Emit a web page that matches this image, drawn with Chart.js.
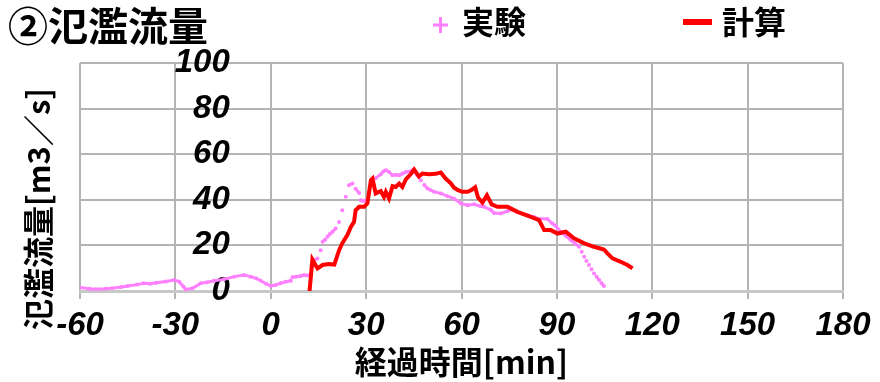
<!DOCTYPE html>
<html>
<head>
<meta charset="utf-8">
<script src="https://cdn.jsdelivr.net/npm/chart.js@4/dist/chart.umd.min.js"></script>
<style>
  html, body { margin: 0; padding: 0; background: #fff; }
  #wrap { width: 880px; height: 382px; }
</style>
</head>
<body>
<div id="wrap"><canvas id="c" width="880" height="382"></canvas></div>
<script>
// Axis ticks
const xTicks = [-60, -30, 0, 30, 60, 90, 120, 150, 180];
const yTicks = [0, 20, 40, 60, 80, 100];

// 実験 (measured overflow discharge), time in min and flow in m3/s
const expTime = [
  -60, -57, -55, -52, -50, -47, -45, -42, -40, -38, -36, -33, -30.4, -28.8, -27.5, -26.7,
  -24.6, -22, -20, -17.8, -14.7, -11.5, -8.4, -6.3, -4.5, -3.1, -1.5, 0, 1.5, 3.1, 4.7,
  6.3, 6.8, 8, 9.4, 10.5, 11.5, 12.6, 13.1, 13.6, 14.7, 15.7, 16.3, 17.1, 17.8, 18.6,
  19.4, 20.4, 21.5, 22.5, 23.6, 24.6, 25.7, 26.7, 27.8, 28.3, 29.1, 29.9, 31.0, 32.0,
  33.0, 34.6, 35.4, 36.2, 37.2, 38.3, 39.4, 40.4, 41.5, 42.5, 44.0, 44.6, 46.1, 47.2,
  48.3, 49.3, 50.4, 51.4, 53.5, 55.6, 57.7, 59.8, 61.9, 64.0, 66.0, 67.1, 69.2, 70.2,
  72.3, 74.5, 75.5, 77.6, 80.7, 82.8, 83.9, 87.0, 88.6, 89.6, 91.2, 92.8, 94.4, 95.7,
  97.0, 97.8, 98.6, 99.3, 100.1, 100.9, 101.7, 102.5, 103.3, 104.0, 104.8
];
const expFlow = [
  1.5, 1.0, 0.8, 1.0, 1.2, 1.8, 2.2, 2.8, 3.4, 3.2, 3.6, 4.2, 4.8, 4.1, 2.0, 0.7,
  1.2, 3.4, 3.8, 4.5, 5.1, 6.3, 7.0, 6.3, 5.5, 4.5, 3.2, 2.2, 2.6, 3.4, 4.1,
  4.5, 6.0, 6.3, 6.6, 7.0, 6.8, 7.4, 10.6, 13.6, 14.3, 17.9, 21.6, 22.5, 23.8, 25.0,
  26.0, 27.4, 30.3, 35.4, 41.3, 46.4, 47.1, 44.9, 43.0, 39.8, 39.5, 39.8, 43.5, 47.5,
  49.5, 51.2, 52.4, 53.0, 52.2, 50.8, 51.0, 50.8, 51.5, 52.2, 52.5, 53.0, 50.8, 48.6,
  46.5, 45.0, 44.2, 43.5, 42.8, 41.6, 40.5, 38.4, 37.6, 38.0, 37.2, 36.9, 35.6, 34.2,
  34.0, 35.0, 35.8, 34.7, 33.3, 32.5, 31.8, 31.6, 29.6, 28.6, 26.0, 24.2, 22.3, 20.8,
  19.4, 17.2, 15.0, 13.2, 11.4, 9.5, 7.7, 6.2, 4.8, 3.5, 2.2
];

// 計算 (computed overflow discharge)
const calcTime = [
  12.2, 13.1, 14.7, 16.3, 18.2, 20.0, 21.5, 22.5, 24.1, 25.2, 26.2, 26.7, 27.8, 29.4,
  30.4, 31.5, 32.0, 33.0, 34.6, 35.6, 36.2, 37.2, 38.3, 39.3, 40.4, 41.4, 42.5, 44.0,
  45.1, 46.6, 47.7, 49.8, 51.9, 53.5, 55.0, 56.6, 57.6, 58.9, 60.3, 61.9, 63.0, 64.3,
  65.2, 66.6, 68.0, 69.5, 71.3, 74.5, 77.6, 81.8, 84.4, 86.0, 88.1, 90.2, 92.8, 95.4,
  98.6, 101.7, 104.8, 105.9, 107.5, 110.1, 112.2, 113.8
];
const calcFlow = [
  0, 13.8, 9.9, 11.4, 11.8, 11.6, 17.9, 21.0, 24.5, 28.1, 30.3, 35.4, 36.9, 36.9,
  38.4, 48.6, 49.3, 42.8, 43.8, 41.3, 43.5, 40.6, 46.0, 45.6, 47.1, 45.6, 49.0, 51.2,
  53.3, 50.2, 51.5, 51.2, 51.4, 52.0, 49.3, 47.3, 45.4, 44.2, 43.5, 43.5, 44.2, 45.5,
  41.0, 38.8, 42.0, 38.0, 36.9, 36.9, 34.7, 32.5, 31.1, 26.7, 26.7, 25.2, 26.0, 23.1,
  20.9, 19.4, 18.2, 16.5, 14.3, 12.8, 11.4, 9.9
];

const expColor = '#ff80ff';
const calcColor = '#ff0000';
const gridColor = '#b4b4b4';
const jpFont = '"Noto Sans CJK JP", sans-serif';
const tickFont = { family: '"Liberation Sans", Arial, sans-serif', size: 33, style: 'italic', weight: 'bold' };

const toPoints = (ts, vs) => ts.map((t, i) => ({ x: t, y: vs[i] }));

// Header (title + legend) and the vertical y-axis caption
const captions = {
  id: 'captions',
  afterDraw(chart) {
    const ctx = chart.ctx;
    ctx.save();
    ctx.fillStyle = '#000';
    ctx.textBaseline = 'middle';
    ctx.font = 'bold 40px ' + jpFont;
    ctx.fillText('②氾濫流量', 8, 26);

    // legend: 実験
    ctx.strokeStyle = expColor;
    ctx.lineWidth = 3;
    ctx.beginPath();
    ctx.moveTo(433, 25); ctx.lineTo(448, 25);
    ctx.moveTo(440.5, 17); ctx.lineTo(440.5, 33);
    ctx.stroke();
    ctx.font = 'bold 32px ' + jpFont;
    ctx.fillText('実験', 462, 22);

    // legend: 計算
    ctx.strokeStyle = calcColor;
    ctx.lineWidth = 6;
    ctx.beginPath();
    ctx.moveTo(683, 22); ctx.lineTo(712, 22);
    ctx.stroke();
    ctx.fillText('計算', 722, 22);

    // y-axis caption
    ctx.translate(38, 209);
    ctx.rotate(-Math.PI / 2);
    ctx.textAlign = 'center';
    ctx.font = 'bold 31px ' + jpFont;
    ctx.fillText('氾濫流量[m3／s]', 0, 0);
    ctx.restore();
  }
};

new Chart(document.getElementById('c'), {
  type: 'scatter',
  data: {
    datasets: [
      {
        label: '計算',
        data: toPoints(calcTime, calcFlow),
        showLine: true,
        borderColor: calcColor,
        backgroundColor: calcColor,
        borderWidth: 4,
        pointRadius: 0,
        tension: 0,
        order: 0
      },
      {
        label: '実験',
        data: toPoints(expTime, expFlow),
        showLine: true,
        borderColor: expColor,
        backgroundColor: expColor,
        borderWidth: 3,
        pointRadius: 2,
        pointBorderWidth: 0,
        tension: 0,
        order: 1,
        segment: {
          // fast-changing stretches show as separate sample dots
          borderColor: c => {
            const dx = c.p1.parsed.x - c.p0.parsed.x;
            const dy = Math.abs(c.p1.parsed.y - c.p0.parsed.y);
            return dy / dx > 1.8 ? 'rgba(0,0,0,0)' : expColor;
          }
        }
      }
    ]
  },
  options: {
    responsive: false,
    animation: false,
    layout: { padding: { left: 80, right: 37, top: 63, bottom: 0 } },
    plugins: { legend: { display: false }, tooltip: { enabled: false } },
    scales: {
      x: {
        type: 'linear',
        min: -60, max: 180,
        position: 'bottom',
        afterBuildTicks: s => { s.ticks = xTicks.map(v => ({ value: v })); },
        afterFit: s => { s.height = 91; },
        border: { color: '#c8c8c8', width: 3 },
        grid: { color: gridColor, lineWidth: 2, tickLength: 8, drawTicks: true },
        ticks: { font: tickFont, color: '#000', padding: 7, maxRotation: 0, autoSkip: false },
        title: {
          display: true,
          text: '経過時間[min]',
          color: '#000',
          font: { family: jpFont, size: 32, weight: 'bold' },
          padding: { top: 0, bottom: 1 }
        }
      },
      y: {
        type: 'linear',
        min: 0, max: 100,
        position: { x: -12.9 },
        afterBuildTicks: s => { s.ticks = yTicks.map(v => ({ value: v })); },
        border: { display: false },
        grid: { color: gridColor, lineWidth: 2, drawTicks: false },
        ticks: { font: tickFont, color: '#000', padding: 0 }
      }
    }
  },
  plugins: [captions]
});
</script>
</body>
</html>
